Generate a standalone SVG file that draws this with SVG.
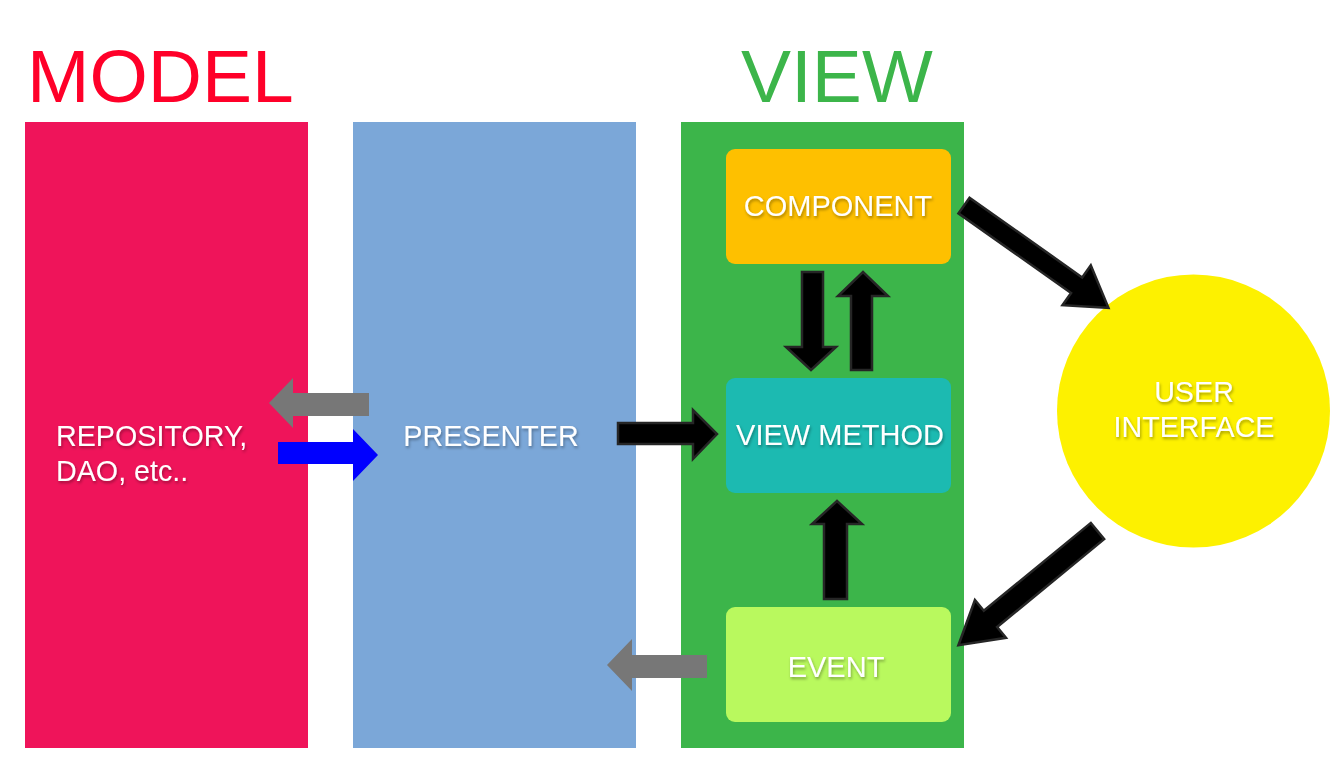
<svg xmlns="http://www.w3.org/2000/svg" width="1342" height="783" viewBox="0 0 1342 783">
<defs>
<filter id="sh" x="-20%" y="-40%" width="140%" height="180%">
<feDropShadow dx="1" dy="2" stdDeviation="1.6" flood-color="#000" flood-opacity="0.35"/>
</filter>
</defs>
<style>
.lbl{font-family:"Liberation Sans",Arial,sans-serif;fill:#fff;text-anchor:middle;filter:url(#sh)}
.title{font-family:"Liberation Sans",Arial,sans-serif;font-size:75px}
.blk{fill:#000;stroke:#262626;stroke-width:2.5;stroke-linejoin:miter}
.gray{fill:#777}
</style>
<rect width="1342" height="783" fill="#fff"/>
<text class="title" x="27" y="102" fill="#ff0029">MODEL</text>
<text class="title" x="741" y="102" fill="#3cb54a">VIEW</text>
<g id="model"><rect x="25" y="122" width="283" height="626" fill="#ef145a"/>
<text class="lbl" style="text-anchor:start" font-size="28.7" x="56" y="446">REPOSITORY,</text>
<text class="lbl" style="text-anchor:start" font-size="28.7" x="56" y="481">DAO, etc..</text></g>
<g id="presenter"><rect x="353" y="122" width="283" height="626" fill="#7ba7d8"/>
<text class="lbl" font-size="28.7" x="491" y="446">PRESENTER</text></g>
<g id="view"><rect x="681" y="122" width="283" height="626" fill="#3cb54a"/></g>
<g id="component"><rect x="726" y="149" width="225" height="115" rx="9" fill="#fec000"/>
<text class="lbl" font-size="29" x="838" y="216">COMPONENT</text></g>
<g id="viewmethod"><rect x="726" y="378" width="225" height="115" rx="9" fill="#1cbab1"/>
<text class="lbl" font-size="29" x="840" y="445">VIEW METHOD</text></g>
<g id="event"><rect x="726" y="607" width="225" height="115" rx="9" fill="#b9f95e"/>
<text class="lbl" font-size="29" x="836" y="677">EVENT</text></g>
<g id="ui"><circle cx="1193.5" cy="411" r="136.5" fill="#fdf100"/>
<text class="lbl" font-size="28.7" x="1194" y="402">USER</text>
<text class="lbl" font-size="28.7" x="1194" y="437">INTERFACE</text></g>
<g id="connectors">
<path class="gray" d="M369,393 H293 V378 L269,403 L293,428 V416 H369 Z"/>
<path d="M278,442 H353 V429 L378,455 L353,481 V464 H278 Z" fill="#0000ff"/>
<path class="gray" d="M707,655 H632 V639 L607,665 L632,691 V678 H707 Z"/>
<path class="blk" d="M618,423 H693 V410 L717,434 L693,459 V444 H618 Z"/>
<path class="blk" d="M802,272 H823 V347 H836 L811,370 L786,347 H802 Z"/>
<path class="blk" d="M851,370 H872 V296 H888 L863,272 L838,296 H851 Z"/>
<path class="blk" d="M824,599 H847 V524 H862 L837,501 L812,524 H824 Z"/>
<path class="blk" transform="translate(964,205.5) rotate(35.3)" d="M0,-9.6 H138 V-24.5 L177,0 L138,24.5 V9.6 H0 Z"/>
<path class="blk" transform="translate(1097.5,531) rotate(140.6)" d="M0,-10.5 H138.5 V-24.5 L180,0 L138.5,24.5 V10.5 H0 Z"/>
</g>
</svg>
